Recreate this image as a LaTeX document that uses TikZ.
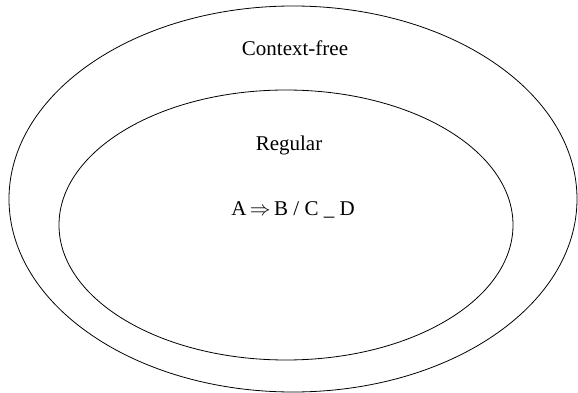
\documentclass[tikz,border=0pt]{standalone}
\usepackage{fontspec}
\setmainfont{Liberation Serif}
\usepackage{tikz}

\tikzset{lbl/.style={font=\fontsize{21}{25}\selectfont, inner sep=0pt}}

\begin{document}
\begin{tikzpicture}[x=1pt,y=-1pt,line width=0.8pt]
\useasboundingbox (0,0) rectangle (578,393);
\draw (293,199) ellipse [x radius=284, y radius=193];
\draw (286,225) ellipse [x radius=227, y radius=135];

\node[lbl] (cf) at (295,48) {Context-free};
\node[lbl] (reg) at (289,145) {Regular};
\node[lbl] (rule) at (293,210) {A\,$\Rightarrow$\,B / C \_ D};
\end{tikzpicture}
\end{document}
